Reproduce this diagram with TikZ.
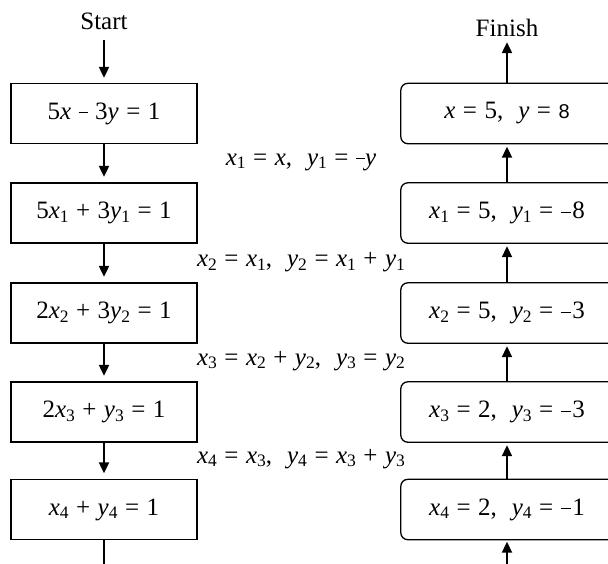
\documentclass[tikz,border=0pt]{standalone}
\usepackage{fontspec}
\setmainfont{Liberation Serif}
\newfontfamily\sansA{Liberation Sans}
\usetikzlibrary{arrows.meta}
\newcommand\subn[1]{\raisebox{-3.5pt}{\fontsize{17.5}{18}\selectfont #1}}
\newcommand\xs[1]{\textit{x}\subn{#1}}
\newcommand\ys[1]{\textit{y}\subn{#1}}
\newcommand\vx{\textit{x}}
\newcommand\vy{\textit{y}}
\newcommand\gap{\hspace{0.6em}}
\newcommand\spc{\hspace{0.3em}}
\newcommand\smin{\raisebox{0.225em}{\rule{0.36em}{0.05em}}}
\newcommand\lmin{\raisebox{0.225em}{\rule{0.42em}{0.05em}}\hspace{0.04em}}
\begin{document}
\begin{tikzpicture}[x=1pt,y=-1pt,
  txt/.style={inner sep=0pt, font=\fontsize{25}{30}\selectfont},
  lbox/.style={txt, draw, line width=1.3pt, minimum width=186pt, minimum height=60pt},
  rbox/.style={txt, minimum width=212pt, minimum height=60pt},
  rframe/.style={draw, line width=1.3pt, rounded corners=7pt},
  arr/.style={line width=2pt, -{Triangle[length=11pt,width=10pt]}},
  plain/.style={line width=2pt},
  lbl/.style={txt, anchor=base}]
\clip (0,0) rectangle (608,563);
% left column
\node[lbl] (start) at (104,29.3) {Start};
\node[lbox] (L1) at (104,113.5) {5\vx{}\spc\smin\spc3\vy{}\spc=\spc1};
\node[lbox] (L2) at (104,213) {5\xs1\spc+\spc3\ys1\spc=\spc1};
\node[lbox] (L3) at (104,313) {2\xs2\spc+\spc3\ys2\spc=\spc1};
\node[lbox] (L4) at (104,412) {2\xs3\spc+\spc\ys3\spc=\spc1};
\node[lbox] (L5) at (104,509.5) {\xs4\spc+\spc\ys4\spc=\spc1};
\coordinate (lend) at (104,580);
% right column
\node[lbl] (fin) at (507,36.7) {Finish};
\node[rbox] (R1) at (507,113.5) {\vx{}\spc=\spc5,\gap\vy{}\spc=\spc{\sansA\fontsize{20}{20}\selectfont 8}};
\node[rbox] (R2) at (507,213) {\xs1\spc=\spc5,\gap\ys1\spc=\spc\lmin8};
\node[rbox] (R3) at (507,313) {\xs2\spc=\spc5,\gap\ys2\spc=\spc\lmin3};
\node[rbox] (R4) at (507,412) {\xs3\spc=\spc2,\gap\ys3\spc=\spc\lmin3};
\node[rbox] (R5) at (507,509.5) {\xs4\spc=\spc2,\gap\ys4\spc=\spc\lmin1};
\foreach \r in {R1,R2,R3,R4,R5}
  \draw[rframe] (\r.south west) rectangle ([xshift=30pt]\r.north east);
\coordinate (rend) at (507,580);
% middle labels
\node[lbl] (m1) at (301,165) {\xs1\spc=\spc\vx,\gap\ys1\spc=\spc\smin\vy};
\node[lbl] (m2) at (301,266.5) {\xs2\spc=\spc\xs1,\gap\ys2\spc=\spc\xs1\spc+\spc\ys1};
\node[lbl] (m3) at (301,365) {\xs3\spc=\spc\xs2\spc+\spc\ys2,\gap\ys3\spc=\spc\ys2};
\node[lbl] (m4) at (301,463) {\xs4\spc=\spc\xs3,\gap\ys4\spc=\spc\xs3\spc+\spc\ys3};
% connectors left
\draw[arr, shorten <=10pt, shorten >=5pt] (start.south) -- (L1.north);
\draw[arr, shorten >=5.5pt] (L1.south) -- (L2.north);
\draw[arr, shorten >=5.5pt] (L2.south) -- (L3.north);
\draw[arr, shorten >=5.5pt] (L3.south) -- (L4.north);
\draw[arr, shorten >=5.5pt] (L4.south) -- (L5.north);
\draw[plain] (L5.south) -- (lend);
% connectors right
\draw[arr, shorten >=5pt] (R1.north) -- (fin.south);
\draw[arr, shorten >=3pt] (R2.north) -- (R1.south);
\draw[arr, shorten >=3pt] (R3.north) -- (R2.south);
\draw[arr, shorten >=3pt] (R4.north) -- (R3.south);
\draw[arr, shorten >=3pt] (R5.north) -- (R4.south);
\draw[arr, shorten >=2pt] (rend) -- (R5.south);
\end{tikzpicture}
\end{document}
